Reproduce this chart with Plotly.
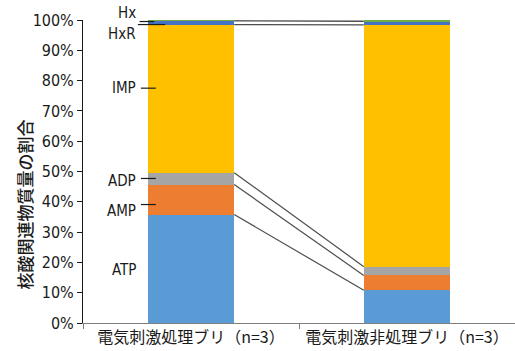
import plotly.graph_objects as go

# Categories and composition (fraction of total nucleotide-related compounds)
categories = ["電気刺激処理ブリ（n=3）", "電気刺激非処理ブリ（n=3）"]
series_names = ["ATP", "AMP", "ADP", "IMP", "HxR", "Hx"]
atp = [0.358, 0.108]
amp = [0.099, 0.049]
adp = [0.039, 0.029]
imp = [0.489, 0.798]
hxr = [0.012, 0.011]
hx = [0.003, 0.005]
series_values = [atp, amp, adp, imp, hxr, hx]
y_ticks = [i / 10 for i in range(11)]

colors = ["#5B9BD5", "#ED7D31", "#A5A5A5", "#FFC000", "#4472C4", "#70AD47"]
bar_width = 0.4
narrow = "DejaVu Sans Condensed, Liberation Sans Narrow, sans-serif"

fig = go.Figure()
for name, vals, col in zip(series_names, series_values, colors):
    fig.add_trace(go.Bar(x=categories, y=vals, name=name, marker_color=col,
                         marker_line_width=0, width=bar_width))

# Series lines joining the top of each stacked segment between the two bars
cum = [0.0, 0.0]
for vals in series_values:
    cum = [cum[0] + vals[0], cum[1] + vals[1]]
    fig.add_shape(type="line", xref="x", yref="y",
                  x0=bar_width / 2, x1=1 - bar_width / 2, y0=cum[0], y1=cum[1],
                  line=dict(color="#4d4d4d", width=1.2))

# Segment labels on the left with short leader lines
label_font = dict(family=narrow, size=15, color="#1a1a1a")
labels = [
    # text, label y, pixel shift, leader y (or None), leader x0, leader x1
    ("Hx", 1.0, 7, 0.995, -0.238, -0.17),
    ("HxR", 0.955, 0, 0.985, -0.246, -0.12),
    ("IMP", 0.775, 0, 0.775, -0.232, -0.163),
    ("ADP", 0.47, 0, 0.477, -0.232, -0.163),
    ("AMP", 0.37, 0, 0.391, -0.232, -0.163),
    ("ATP", 0.175, 0, None, None, None),
]
for text, ly, shift, leady, lx0, lx1 in labels:
    fig.add_annotation(x=-0.245, y=ly, yshift=shift, xref="x", yref="y", text=text,
                       showarrow=False, xanchor="right", yanchor="middle", font=label_font)
    if leady is not None:
        fig.add_shape(type="line", xref="x", yref="y", x0=lx0, x1=lx1, y0=leady, y1=leady,
                      line=dict(color="#1a1a1a", width=1.2))

# Vertical axis title
fig.add_annotation(text="核酸関連物質量の割合", textangle=-90, showarrow=False,
                   xref="paper", yref="paper", x=-0.135, y=0.39,
                   xanchor="center", yanchor="middle",
                   font=dict(family="Noto Sans CJK JP", size=17, color="#1a1a1a",
                             weight=500))

fig.update_layout(
    barmode="stack",
    width=515, height=351,
    margin=dict(l=83, r=0, t=20, b=28),
    plot_bgcolor="white", paper_bgcolor="white",
    showlegend=False,
)
fig.update_xaxes(
    type="category", range=[-0.5, 1.5],
    showline=True, linecolor="#7f7f7f", linewidth=1,
    ticks="outside", tickson="boundaries", ticklen=5, tickcolor="#7f7f7f",
    tickfont=dict(family="Noto Sans CJK JP", size=16, color="#1a1a1a"),
    showgrid=False,
)
fig.update_yaxes(
    range=[0, 1], tickvals=y_ticks, tickformat=".0%",
    showline=True, linecolor="#1a1a1a", linewidth=1,
    ticks="outside", ticklen=5, tickcolor="#1a1a1a",
    tickfont=dict(family=narrow, size=16, color="#1a1a1a"),
    showgrid=False, zeroline=False,
)

fig.write_html("out.html")
